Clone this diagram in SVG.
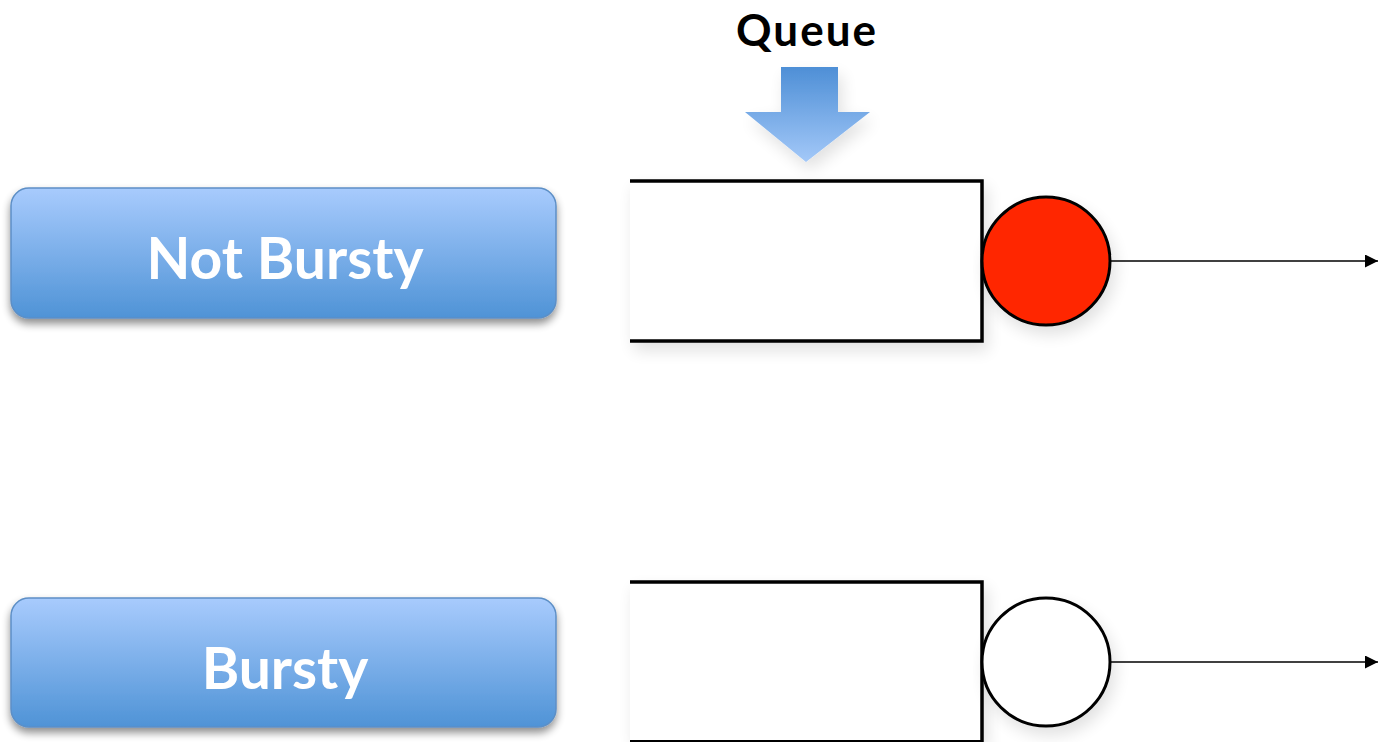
<svg xmlns="http://www.w3.org/2000/svg" width="1378" height="742" viewBox="0 0 1378 742">
  <defs>
    <linearGradient id="btnFill" x1="0" y1="0" x2="0" y2="1">
      <stop offset="0" stop-color="#a8cbfd"/>
      <stop offset="1" stop-color="#4f93d6"/>
    </linearGradient>
    <linearGradient id="arrowFill" x1="0" y1="0" x2="0" y2="1">
      <stop offset="0" stop-color="#4e8fd6"/>
      <stop offset="1" stop-color="#a3c8f8"/>
    </linearGradient>
    <filter id="shadow" x="-10%" y="-20%" width="120%" height="150%">
      <feGaussianBlur in="SourceAlpha" stdDeviation="4"/>
      <feOffset dx="0" dy="5" result="b"/>
      <feComponentTransfer><feFuncA type="linear" slope="0.45"/></feComponentTransfer>
      <feMerge><feMergeNode/><feMergeNode in="SourceGraphic"/></feMerge>
    </filter>
    <filter id="softShadow" x="-10%" y="-20%" width="130%" height="150%">
      <feGaussianBlur in="SourceAlpha" stdDeviation="8"/>
      <feOffset dx="4" dy="8" result="b"/>
      <feComponentTransfer><feFuncA type="linear" slope="0.12"/></feComponentTransfer>
      <feMerge><feMergeNode/><feMergeNode in="SourceGraphic"/></feMerge>
    </filter>
    <marker id="arrowHead" viewBox="0 0 10 10" refX="10" refY="5" markerWidth="13" markerHeight="13" markerUnits="userSpaceOnUse" orient="auto">
      <path d="M0,0 L10,5 L0,10 Z" fill="#000"/>
    </marker>
  </defs>
  <style>
    .btn { fill: url(#btnFill); stroke: #5d8fc6; stroke-width: 1.5; filter: url(#shadow); }
    .btnText { font-family: Lato, "Open Sans", sans-serif; font-weight: bold; font-size: 57px; fill: #ffffff; text-anchor: middle; }
    .title { font-family: Lato, "Open Sans", sans-serif; font-weight: bold; font-size: 44px; letter-spacing: 2px; fill: #000000; text-anchor: middle; }
    .queue { fill: none; stroke: #000; stroke-width: 3.5; }
    .server { stroke: #000; stroke-width: 3; }
    .link { stroke: #000; stroke-width: 1.5; fill: none; marker-end: url(#arrowHead); }
  </style>

  <rect width="1378" height="742" fill="#ffffff"/>

  <!-- Queue label and incoming arrow -->
  <g id="queue-label">
    <text class="title" x="807" y="46">Queue</text>
    <path d="M781,67 H838 V112 H870 L806,162 L745,112 H781 Z" fill="url(#arrowFill)" filter="url(#softShadow)"/>
  </g>

  <!-- Row labels -->
  <g id="not-bursty">
    <rect class="btn" x="11" y="188" width="545" height="130" rx="18" ry="18"/>
    <text class="btnText" x="285" y="279">Not Bursty</text>
  </g>
  <g id="bursty">
    <rect class="btn" x="11" y="598" width="545" height="129" rx="18" ry="18"/>
    <text class="btnText" x="285" y="689">Bursty</text>
  </g>

  <!-- Top queue and server -->
  <g id="queue-top" filter="url(#softShadow)">
    <rect x="630" y="181" width="352" height="160" fill="#ffffff"/>
    <path class="queue" d="M630,181 H982 V341 H630"/>
  </g>
  <g id="server-top" filter="url(#softShadow)">
    <circle class="server" cx="1046" cy="261" r="64" fill="#ff2600"/>
  </g>

  <!-- Bottom queue and server -->
  <g id="queue-bottom" filter="url(#softShadow)">
    <rect x="630" y="582" width="352" height="160" fill="#ffffff"/>
    <path class="queue" d="M630,582 H982 V742"/>
    <path d="M630,741 H982" stroke="#000" stroke-width="2" fill="none"/>
  </g>
  <g id="server-bottom" filter="url(#softShadow)">
    <circle class="server" cx="1046" cy="662" r="64" fill="#ffffff"/>
  </g>

  <!-- Outgoing connectors -->
  <g id="connectors">
    <line class="link" x1="1110" y1="261" x2="1378" y2="261"/>
    <line class="link" x1="1110" y1="662" x2="1378" y2="662"/>
  </g>
</svg>
